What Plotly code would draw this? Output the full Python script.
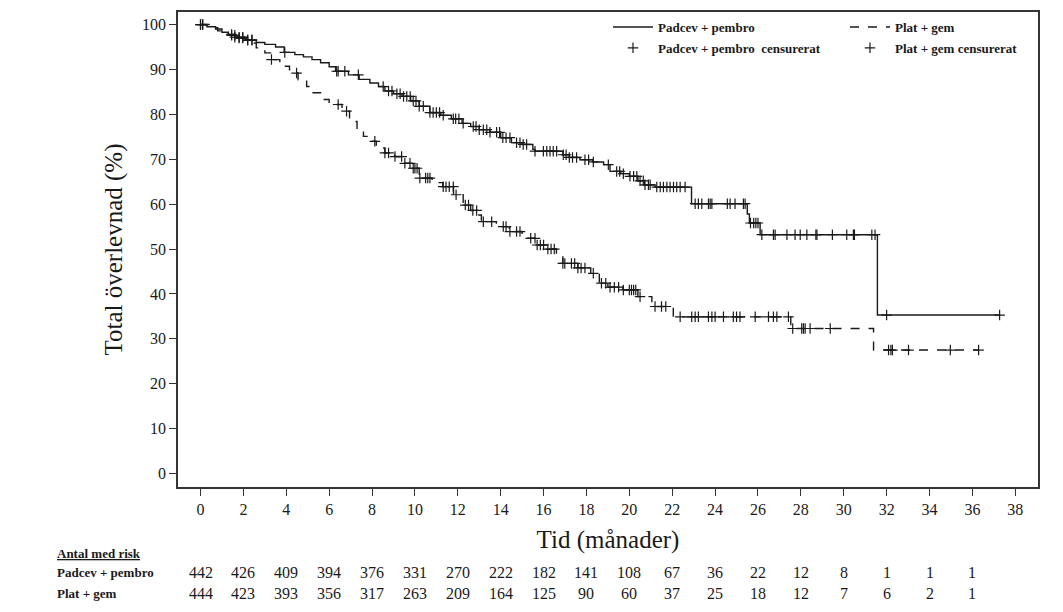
import numpy as np
import plotly.graph_objects as go

# ---------------- data ----------------
padcev_t = [0, 0.3, 0.7, 1.0, 1.3, 1.7, 2.2, 2.6, 3.0, 3.5, 3.9, 4.4, 4.8, 5.2, 5.6, 6.0, 6.3, 6.9,
            7.4, 7.9, 8.3, 8.6, 9.0, 9.4, 9.8, 10.2, 10.7, 11.2, 11.7, 12.2, 12.6, 13.0, 13.5, 14.0,
            14.5, 15.0, 15.5, 15.6, 16.9, 17.2, 17.7, 18.3, 18.8, 19.1, 19.6, 20.0, 20.4, 20.7, 21.2,
            22.9, 25.5, 25.6, 26.1, 31.57, 37.27]
padcev_s = [100, 99.5, 99.0, 98.3, 97.6, 97.0, 96.5, 96.0, 95.6, 95.0, 93.8, 93.3, 92.8, 92.2, 91.5,
            90.6, 89.6, 88.8, 87.8, 87.0, 86.2, 85.2, 84.6, 84.0, 83.0, 81.8, 80.4, 79.8, 79.0, 78.0,
            77.3, 76.6, 76.0, 74.8, 73.7, 73.3, 72.2, 71.8, 71.0, 70.4, 69.9, 69.4, 68.8, 67.3, 66.8,
            66.2, 65.2, 64.3, 63.8, 60.1, 57.8, 55.8, 53.2, 35.3, 35.3]

plat_t = [0, 0.4, 0.8, 1.2, 1.6, 2.1, 2.5, 2.6, 3.0, 3.3, 3.7, 4.15, 4.55, 4.95, 5.25, 5.65, 6.0,
          6.6, 6.95, 7.3, 7.6, 7.8, 8.2, 8.6, 9.05, 9.5, 9.9, 10.2, 10.8, 11.3, 11.8, 12.25, 12.6,
          12.9, 13.1, 13.8, 14.4, 15.0, 15.7, 16.2, 16.6, 16.9, 17.6, 18.2, 18.6, 19.0, 19.7, 20.4,
          21.05, 22.05, 27.53, 31.39, 36.29]
plat_s = [100, 99.3, 98.6, 97.8, 97.2, 96.6, 95.9, 94.8, 93.7, 92.2, 90.7, 89.2, 87.7, 86.2, 84.8,
          83.3, 82.2, 80.7, 78.4, 76.6, 75.1, 74.0, 72.5, 71.4, 70.6, 69.1, 68.0, 65.8, 64.8, 63.9,
          62.1, 59.8, 58.6, 57.6, 56.1, 55.0, 53.9, 52.4, 50.9, 50.0, 48.7, 46.8, 45.8, 44.6, 42.4,
          41.5, 40.9, 39.4, 37.2, 34.9, 32.3, 27.5, 27.5]

padcev_cens = [0.0, 0.1, 1.45, 1.6, 1.8, 1.97, 2.2, 2.4, 3.93, 6.35, 6.42, 6.73, 7.36, 8.52, 8.77,
               8.93, 9.16, 9.31, 9.47, 9.62, 9.78, 9.92, 10.05, 10.2, 10.39, 10.7, 10.85, 11.0, 11.15,
               11.32, 11.79, 11.9, 12.05, 12.25, 12.72, 12.85, 13.0, 13.19, 13.35, 13.5, 13.81, 13.95,
               14.1, 14.25, 14.43, 14.74, 14.9, 15.05, 15.21, 15.6, 15.99, 16.15, 16.3, 16.45, 16.61,
               16.92, 17.05, 17.2, 17.35, 17.54, 17.93, 18.1, 18.32, 19.02, 19.41, 19.55, 19.72, 20.03,
               20.2, 20.35, 20.5, 20.65, 20.73, 20.89, 20.97, 21.28, 21.44, 21.59, 21.75, 21.9, 22.06,
               22.21, 22.37, 22.6, 23.07, 23.22, 23.38, 23.69, 23.77, 23.85, 24.57, 24.7, 24.93, 25.32,
               25.4, 25.65, 25.8, 25.9, 26.0, 26.18, 26.72, 26.8, 27.35, 27.73, 27.97, 28.28, 28.7,
               28.75, 29.47, 30.14, 30.45, 30.5, 31.31, 31.46, 32.0, 37.27]
plat_cens = [0.0, 0.1, 1.45, 1.6, 1.8, 1.97, 2.2, 2.4, 3.31, 4.48, 6.42, 6.81, 8.13, 8.6, 8.77, 9.07,
             9.38, 9.53, 9.77, 9.92, 10.0, 10.1, 10.23, 10.5, 10.6, 10.7, 11.32, 11.45, 11.6, 11.79,
             11.92, 12.35, 12.5, 12.7, 12.88, 13.19, 13.58, 14.12, 14.25, 14.43, 14.74, 14.9, 15.4,
             15.6, 15.7, 15.85, 16.0, 16.2, 16.35, 16.5, 16.9, 16.99, 17.3, 17.45, 17.6, 17.75, 17.93,
             18.32, 18.7, 18.9, 19.1, 19.3, 19.5, 19.72, 20.0, 20.1, 20.2, 20.3, 20.5, 21.2, 21.5,
             21.7, 22.37, 22.91, 23.07, 23.22, 23.69, 23.85, 24.0, 24.39, 24.85, 25.0, 25.16, 25.87,
             26.49, 26.72, 26.88, 27.42, 27.62, 28.04, 28.12, 28.2, 28.43, 29.37, 32.09, 32.2, 32.27,
             33.02, 34.97, 36.29]

risk_times = [0, 2, 4, 6, 8, 10, 12, 14, 16, 18, 20, 22, 24, 26, 28, 30, 32, 34, 36]
risk_padcev = [442, 426, 409, 394, 376, 331, 270, 222, 182, 141, 108, 67, 36, 22, 12, 8, 1, 1, 1]
risk_plat = [444, 423, 393, 356, 317, 263, 209, 164, 125, 90, 60, 37, 25, 18, 12, 7, 6, 2, 1]

x_ticks = list(range(0, 39, 2))
y_ticks = list(range(0, 101, 10))

# ---------------- figure ----------------
SERIF = "Liberation Serif, Times New Roman, serif"
INK = "#1a1a1a"


def step_value(ts, ss, x):
    idx = np.searchsorted(np.array(ts), np.array(x), side="right") - 1
    return np.array(ss)[np.clip(idx, 0, len(ss) - 1)]


fig = go.Figure()
fig.add_trace(go.Scatter(x=padcev_t, y=padcev_s, mode="lines", line_shape="hv",
                         line=dict(color=INK, width=1.4), name="<b>Padcev + pembro</b>",
                         legend="legend"))
fig.add_trace(go.Scatter(x=plat_t, y=plat_s, mode="lines", line_shape="hv",
                         line=dict(color=INK, width=1.4, dash="dash"), name="<b>Plat + gem</b>",
                         legend="legend"))
fig.add_trace(go.Scatter(x=padcev_cens, y=step_value(padcev_t, padcev_s, padcev_cens), mode="markers",
                         marker=dict(symbol="cross-thin", size=7.5, line=dict(color=INK, width=1.2)),
                         name="<b>Padcev + pembro  censurerat</b>", legend="legend2"))
fig.add_trace(go.Scatter(x=plat_cens, y=step_value(plat_t, plat_s, plat_cens), mode="markers",
                         marker=dict(symbol="cross-thin", size=7.5, line=dict(color=INK, width=1.2)),
                         name="<b>Plat + gem censurerat</b>", legend="legend2"))

axis_common = dict(showline=True, linecolor="#333333", linewidth=1.5, mirror=True,
                   ticks="outside", ticklen=7, tickwidth=1.2, tickcolor="#333333",
                   showgrid=False, zeroline=False,
                   tickfont=dict(family=SERIF, size=16, color=INK))

fig.update_layout(
    width=1063, height=612,
    margin=dict(l=178, r=25, t=12, b=125, autoexpand=False),
    paper_bgcolor="white", plot_bgcolor="white",
    font=dict(family=SERIF, color=INK),
    xaxis=dict(range=[-1.05, 39.06], tickvals=x_ticks,
               title=dict(text="Tid (månader)", font=dict(family=SERIF, size=25, color=INK), standoff=14),
               **axis_common),
    yaxis=dict(range=[-3, 102.8], tickvals=y_ticks,
               title=dict(text="Total överlevnad (%)", font=dict(family=SERIF, size=25, color=INK), standoff=12),
               **axis_common),
    legend=dict(orientation="h", x=0.500, y=1.0, xanchor="left", yanchor="top",
                entrywidth=182, entrywidthmode="pixels", bgcolor="rgba(0,0,0,0)",
                font=dict(family=SERIF, size=13, color=INK), itemwidth=40),
    legend2=dict(orientation="h", x=0.500, y=0.956, xanchor="left", yanchor="top",
                 entrywidth=182, entrywidthmode="pixels", bgcolor="rgba(0,0,0,0)",
                 font=dict(family=SERIF, size=13, color=INK), itemwidth=40),
)

# risk table
fig.add_annotation(text="<b><u>Antal med risk</u></b>", xref="paper", yref="paper",
                   x=-0.1435, y=-0.140, xanchor="left", yanchor="middle", showarrow=False,
                   font=dict(family=SERIF, size=13, color=INK))
for label, vals, yy in [("Padcev + pembro", risk_padcev, -0.181), ("Plat + gem", risk_plat, -0.225)]:
    fig.add_annotation(text=f"<b>{label}</b>", xref="paper", yref="paper", x=-0.1435, y=yy,
                       xanchor="left", yanchor="middle", showarrow=False,
                       font=dict(family=SERIF, size=13, color=INK))
    for t, v in zip(risk_times, vals):
        fig.add_annotation(text=str(v), xref="x", yref="paper", x=t, y=yy, xanchor="center",
                           yanchor="middle", showarrow=False,
                           font=dict(family=SERIF, size=16, color=INK))

fig.write_html("out.html", config={"displayModeBar": False},
               post_script="document.body.style.margin='0';")
